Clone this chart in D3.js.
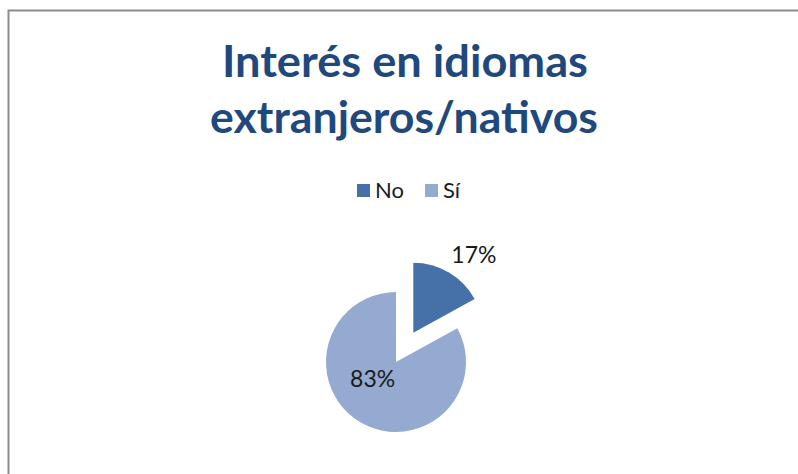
<!DOCTYPE html>
<html>
<head>
<meta charset="utf-8">
<script src="https://cdn.jsdelivr.net/npm/d3@7"></script>
<style>
  html, body { margin: 0; padding: 0; background: #fff; }
  svg { display: block; }
</style>
</head>
<body>
<svg id="chart" width="798" height="474"></svg>
<script>
const categories = ["No", "Sí"];
const values = [17, 83];
const titleLines = ["Interés en idiomas", "extranjeros/nativos"];
const colors = ["#4571a8", "#94aad0"];
const explodedIndex = 0;

const W = 798, H = 474;
const svg = d3.select("#chart");

// outer frame
svg.append("rect")
  .attr("x", 8.5).attr("y", 10.5)
  .attr("width", W + 10).attr("height", H + 10)
  .attr("fill", "#fff")
  .attr("stroke", "#8c8c8c").attr("stroke-width", 2);

// title
const titleTargets = [{cx: 405, base: 77, w: 366}, {cx: 404, base: 133, w: 388}];
titleLines.forEach((t, i) => {
  svg.append("text")
    .attr("x", titleTargets[i].cx).attr("y", titleTargets[i].base)
    .attr("text-anchor", "middle")
    .attr("font-family", "Lato, 'Open Sans', sans-serif")
    .attr("font-weight", "bold")
    .attr("font-size", 43)
    .attr("textLength", titleTargets[i].w)
    .attr("lengthAdjust", "spacingAndGlyphs")
    .attr("fill", "#1f497d")
    .text(t);
});

// legend
const legendX = d3.scaleOrdinal().domain(categories).range([357, 425]);
const lg = svg.append("g");
categories.forEach((c, i) => {
  lg.append("rect")
    .attr("x", legendX(c)).attr("y", 184)
    .attr("width", 13).attr("height", 13)
    .attr("fill", colors[i]);
  lg.append("text")
    .attr("x", legendX(c) + 18).attr("y", 198)
    .attr("font-family", "Lato, 'Open Sans', sans-serif")
    .attr("font-size", 22)
    .attr("fill", "#1a1a1a")
    .text(c);
});

// pie
const cx = 396, cy = 362, r = 70, explode = 34;
const pie = d3.pie().sort(null).value(d => d)(values);
const arc = d3.arc().innerRadius(0).outerRadius(r);
const g = svg.append("g").attr("transform", `translate(${cx},${cy})`);

function offset(d, i) {
  if (i !== explodedIndex) return [0, 0];
  const a = (d.startAngle + d.endAngle) / 2;
  return [Math.sin(a) * explode, -Math.cos(a) * explode];
}

g.selectAll("path").data(pie).join("path")
  .attr("d", arc)
  .attr("transform", (d, i) => { const o = offset(d, i); return `translate(${o[0]},${o[1]})`; })
  .attr("fill", (d, i) => colors[i]);

// labels
const fmt = v => Math.round(v / d3.sum(values) * 100) + "%";
const outerLabelArc = d3.arc().innerRadius(r * 1.42).outerRadius(r * 1.42);
const innerLabelArc = d3.arc().innerRadius(r * 0.92).outerRadius(r * 0.0);
g.selectAll("text.lbl").data(pie).join("text")
  .attr("class", "lbl")
  .attr("transform", (d, i) => {
    const o = offset(d, i);
    let p;
    if (i === explodedIndex) {
      p = outerLabelArc.centroid(d);
      p = [p[0] + 10, p[1] + 7];
    } else {
      p = innerLabelArc.centroid(d);
      p = [p[0] - 7, p[1] - 12];
    }
    return `translate(${p[0] + o[0]},${p[1] + o[1]})`;
  })
  .attr("text-anchor", "middle")
  .attr("dominant-baseline", "central")
  .attr("font-family", "Lato, 'Open Sans', sans-serif")
  .attr("font-size", 23)
  .attr("fill", "#1a1a1a")
  .text(d => fmt(d.data));
</script>
</body>
</html>
